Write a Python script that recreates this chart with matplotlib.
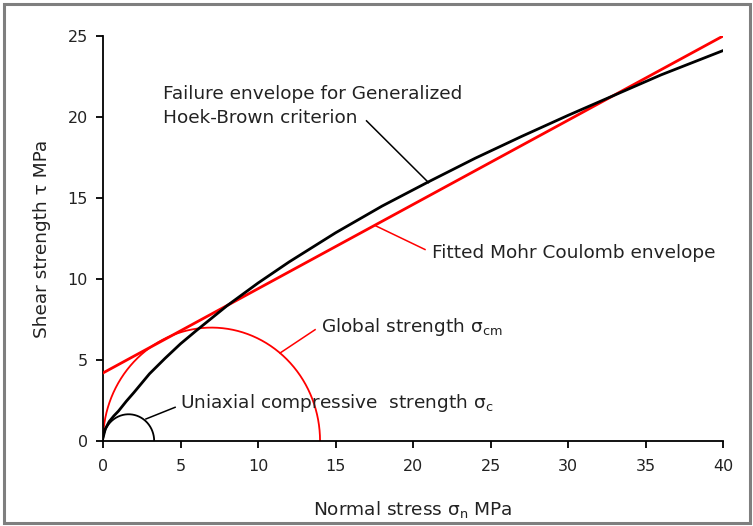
import numpy as np
import matplotlib
matplotlib.use("Agg")
import matplotlib.pyplot as plt
from matplotlib.patches import Rectangle

plt.rcParams['font.family'] = ['DejaVu Sans']
plt.rcParams['mathtext.fontset'] = 'dejavusans'

# Hoek-Brown failure envelope (normal stress, shear strength) in MPa
hb_sigma = [0, 0.15, 0.4, 0.7, 1, 1.5, 2, 3, 4, 5, 6, 8, 10, 12, 15, 18, 21,
            24, 27, 30, 33, 36, 40]
hb_tau = [0.2, 0.75, 1.2, 1.55, 1.85, 2.45, 3.0, 4.15, 5.1, 6.0, 6.8, 8.35,
          9.75, 11.05, 12.85, 14.5, 16.0, 17.45, 18.8, 20.1, 21.35, 22.6, 24.1]

# fitted Mohr-Coulomb line: cohesion and the end point at sigma = 40
mc_sigma = [0, 40]
mc_tau = [4.2, 25.0]

# Mohr circles: uniaxial compressive strength and global rock mass strength
sigma_c = 3.3
sigma_cm = 14.0

x_ticks = [0, 5, 10, 15, 20, 25, 30, 35, 40]
y_ticks = [0, 5, 10, 15, 20, 25]

txt = '#222222'

fig = plt.figure(figsize=(7.53, 5.26), dpi=100)
ax = fig.add_axes([0.1368, 0.1616, 0.8235, 0.77])

# outer frame around the whole figure
fig.patches.append(Rectangle((4 / 753, 3 / 526), 746 / 753, 519 / 526,
                             transform=fig.transFigure, fill=False,
                             edgecolor='#7f7f7f', lw=2.2))

t = np.linspace(0, np.pi, 200)
for d, col in [(sigma_cm, 'red'), (sigma_c, 'black')]:
    r = d / 2
    ax.plot(r + r * np.cos(t), r * np.sin(t), color=col, lw=1.3, zorder=2)

ax.plot(mc_sigma, mc_tau, color='red', lw=2.0, zorder=3)
ax.plot(hb_sigma, hb_tau, color='black', lw=2.0, zorder=4)

# leader lines and labels
fs = 13.3
ax.plot([17.0, 21.0], [19.76, 15.95], color='black', lw=1.1)
ax.text(3.85, 21.1, 'Failure envelope for Generalized', fontsize=fs,
        va='baseline', ha='left', color=txt)
ax.text(3.85, 19.65, 'Hoek-Brown criterion', fontsize=fs,
        va='baseline', ha='left', color=txt)

ax.plot([17.55, 20.77], [13.3, 11.82], color='red', lw=1.1)
ax.text(21.25, 11.3, 'Fitted Mohr Coulomb envelope', fontsize=fs,
        va='baseline', ha='left', color=txt)

ax.plot([11.42, 13.68], [5.43, 6.87], color='red', lw=1.1)
ax.text(14.05, 6.73, r'Global strength σ$_{\mathrm{cm}}$', fontsize=fs,
        va='baseline', ha='left', color=txt)

ax.plot([2.77, 4.65], [1.36, 2.08], color='black', lw=1.1)
ax.text(4.95, 2.02, r'Uniaxial compressive  strength σ$_{\mathrm{c}}$', fontsize=fs,
        va='baseline', ha='left', color=txt)

ax.set_xlim(0, 40)
ax.set_ylim(0, 25)
ax.set_xticks(x_ticks)
ax.set_yticks(y_ticks)
ax.tick_params(direction='out', length=5, width=1.3, labelsize=11.5,
               labelcolor=txt)
ax.tick_params(axis='x', pad=8)
ax.tick_params(axis='y', pad=6)
for s in ['top', 'right']:
    ax.spines[s].set_visible(False)
for s in ['left', 'bottom']:
    ax.spines[s].set_linewidth(1.3)

ax.set_xlabel(r'Normal stress σ$_{\mathrm{n}}$ MPa', fontsize=fs, labelpad=18,
              color=txt)
ax.set_ylabel('Shear strength τ MPa', fontsize=fs, labelpad=12, color=txt)

fig.savefig('out.png', dpi=100)
